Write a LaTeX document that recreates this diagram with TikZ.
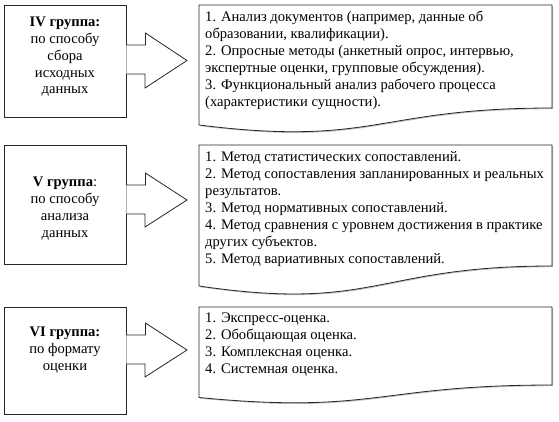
\documentclass[tikz,border=0pt]{standalone}
\usepackage{fontspec}
\setmainfont{Liberation Serif}
\usetikzlibrary{calc}
\begin{document}
\begin{tikzpicture}[x=1pt,y=-1pt,
  frame/.style={draw=black!85, line width=0.8pt},
  lbox/.style={frame, fill=white, minimum width=122pt, inner sep=0pt},
  ltext/.style={align=center, anchor=north, inner sep=0pt, font=\fontsize{14.6}{16.8}\selectfont},
  rtext/.style={align=left, anchor=north west, inner sep=0pt, font=\fontsize{14.6}{16.9}\selectfont},
  docframe/.style={frame, fill=white, preaction={fill=black!25, transform canvas={xshift=1.2pt,yshift=-1.2pt}}},
  arrowshape/.style={frame, fill=white, line join=miter}]
\useasboundingbox (0,0) rectangle (559,421);

% ---- group IV
\node[lbox, minimum height=112pt] (g1) at (65,61) {};
\node[ltext] (g1t) at (65,17) {\textbf{IV группа:}\\по способу\\сбора\\исходных\\данных};
\draw[docframe] (199,5) -- (552,5) -- (552,108) .. controls (375.5,108) and (375.5,147) .. (199,125) -- cycle;
\coordinate (d1) at (199,60.5);
\draw[arrowshape] ($(g1.east)+(0,-16)$) -- ++(19,0) -- ++(0,-12) -- ($(d1)+(-12,0)$) -- ++(-42,27.5) -- ++(0,-14) -- ($(g1.east)+(0,13)$);
\node[rtext] (r1) at (205,11) {1. Анализ документов (например, данные об\\образовании, квалификации).\\2. Опросные методы (анкетный опрос, интервью,\\экспертные оценки, групповые обсуждения).\\3. Функциональный анализ рабочего процесса\\(характеристики сущности).};

% ---- group V
\node[lbox, minimum height=119pt] (g2) at (65,204.5) {};
\node[ltext] (g2t) at (65,177) {\textbf{V группа}:\\по способу\\анализа\\данных};
\draw[docframe] (199,145) -- (552,145) -- (552,266) .. controls (375.5,266) and (375.5,312) .. (199,286) -- cycle;
\coordinate (d2) at (199,200);
\draw[arrowshape] ($(g2.east)+(0,-19.5)$) -- ++(19,0) -- ++(0,-12) -- ($(d2)+(-12,0)$) -- ++(-42,27) -- ++(0,-13) -- ($(g2.east)+(0,9.5)$);
\node[rtext] (r2) at (205,151.5) {1. Метод статистических сопоставлений.\\2. Метод сопоставления запланированных и реальных\\результатов.\\3. Метод нормативных сопоставлений.\\4. Метод сравнения с уровнем достижения в практике\\других субъектов.\\5. Метод вариативных сопоставлений.};

% ---- group VI
\node[lbox, minimum height=107pt] (g3) at (65,360.5) {};
\node[ltext] (g3t) at (65,327) {\textbf{VI группа:}\\по формату\\оценки};
\draw[docframe] (199,307) -- (552,307) -- (552,385) .. controls (375.5,385) and (375.5,414.5) .. (199,397.5) -- cycle;
\coordinate (d3) at (199,350);
\draw[arrowshape] ($(g3.east)+(0,-25.5)$) -- ++(19,0) -- ++(0,-12) -- ($(d3)+(-12,0)$) -- ++(-42,27) -- ++(0,-13) -- ($(g3.east)+(0,3.5)$);
\node[rtext] (r3) at (205,313) {1. Экспресс-оценка.\\2. Обобщающая оценка.\\3. Комплексная оценка.\\4. Системная оценка.};
\end{tikzpicture}
\end{document}
